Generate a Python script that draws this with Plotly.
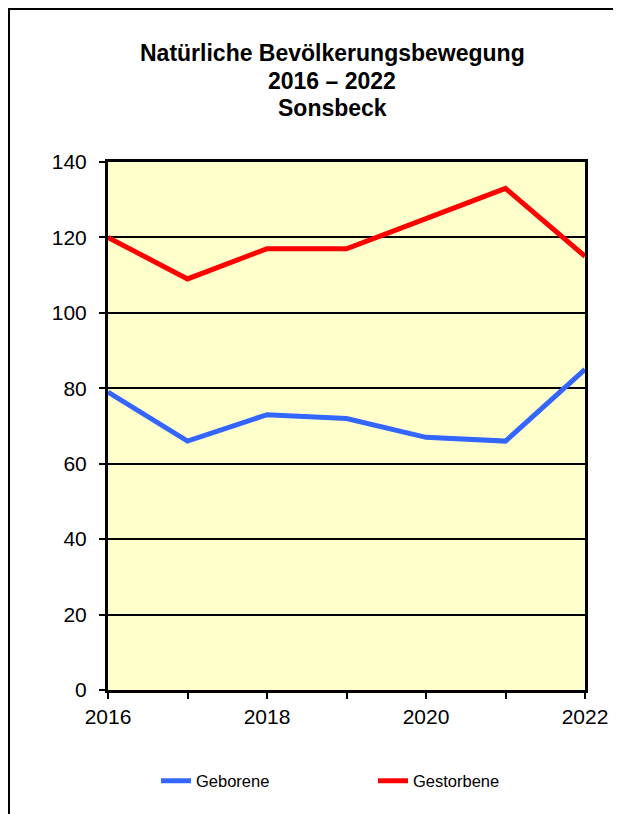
import plotly.graph_objects as go

years = [2016, 2017, 2018, 2019, 2020, 2021, 2022]
geborene = [79, 66, 73, 72, 67, 66, 85]
gestorbene = [120, 109, 117, 117, 125, 133, 115]
x_tick_labels = ["2016", "", "2018", "", "2020", "", "2022"]
y_ticks = [0, 20, 40, 60, 80, 100, 120, 140]
title_lines = ["Natürliche Bevölkerungsbewegung", "2016 – 2022", "Sonsbeck"]

# The page body has an 8px margin, so the figure starts at (8, 8) on screen.
OFF = 8
W, H = 621 - OFF, 814 - OFF
L, R, T, B = 100, 36, 154, 124
pw, ph = W - L - R, H - T - B


def fx(sx):
    return (sx - OFF - L) / pw


def fy(sy):
    return (H - B - (sy - OFF)) / ph


fig = go.Figure()
fig.add_trace(go.Scatter(x=years, y=geborene, mode="lines", name="Geborene",
                         line=dict(color="#3366FF", width=5)))
fig.add_trace(go.Scatter(x=years, y=gestorbene, mode="lines", name="Gestorbene",
                         line=dict(color="#FF0000", width=5)))

annotations = []
for line_text, sy in zip(title_lines, [53, 81, 108]):
    annotations.append(dict(text="<b>" + line_text + "</b>", xref="paper", yref="paper",
                            x=fx(332), y=fy(sy), xanchor="center", yanchor="middle",
                            showarrow=False, font=dict(size=23, color="black")))

fig.update_layout(
    width=W, height=H,
    margin=dict(l=L, r=R, t=T, b=B, pad=0),
    paper_bgcolor="white",
    plot_bgcolor="#FFFFCC",
    font=dict(family="Liberation Sans, Arial, sans-serif", color="black"),
    annotations=annotations,
    showlegend=True,
    legend=dict(orientation="h", x=fx(156), xanchor="left", y=fy(781), yanchor="middle",
                font=dict(size=16.5), entrywidth=172, entrywidthmode="pixels",
                bgcolor="rgba(0,0,0,0)"),
    xaxis=dict(range=[2016, 2022], tickvals=years, ticktext=x_tick_labels,
               showgrid=False, zeroline=False, showline=True, linewidth=3, linecolor="black",
               mirror=True, ticks="outside", ticklen=6, tickwidth=2, tickcolor="black",
               tickfont=dict(size=21), fixedrange=True),
    yaxis=dict(range=[0, 140], tickvals=y_ticks, showgrid=True, gridcolor="black", gridwidth=2,
               zeroline=False, showline=True, linewidth=3, linecolor="black", mirror=True,
               ticks="outside", ticklen=6, tickwidth=2, tickcolor="black",
               tickfont=dict(size=21), ticklabelstandoff=8, fixedrange=True),
    shapes=[dict(type="rect", xref="paper", yref="paper",
                 x0=fx(9), x1=fx(700), y0=fy(900), y1=fy(9),
                 line=dict(color="black", width=2), fillcolor="rgba(0,0,0,0)", layer="below")],
)

fig.write_html("out.html")
